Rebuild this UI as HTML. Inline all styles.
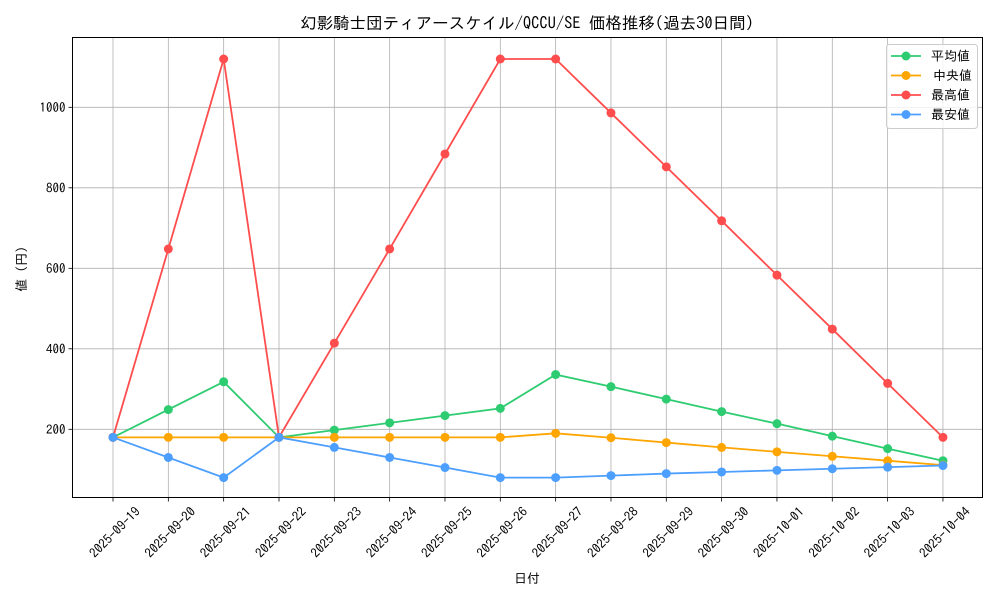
<!DOCTYPE html>
<html><head><meta charset="utf-8"><style>
body{margin:0;background:#fff;}
svg text{font-family:"IPAGothic","Noto Sans CJK JP",sans-serif;}
</style></head><body>
<svg id="c" width="1000" height="600" xmlns="http://www.w3.org/2000/svg"></svg>
<script>
const s=document.getElementById('c');
let h='';
const L=72.5,R=982.5,T=37.5,B=497.5;
const X=i=>113+i*55.33;
const Y=v=>429.3-(v-200)*0.4025;
const dates=["2025-09-19","2025-09-20","2025-09-21","2025-09-22","2025-09-23","2025-09-24","2025-09-25","2025-09-26","2025-09-27","2025-09-28","2025-09-29","2025-09-30","2025-10-01","2025-10-02","2025-10-03","2025-10-04"];
dates.forEach((d,i)=>{const x=X(i);h+=`<line x1="${x}" y1="${T}" x2="${x}" y2="${B}" stroke="#b0b0b0" stroke-width="0.8"/>`;
h+=`<line x1="${x}" y1="${B}" x2="${x}" y2="${B+4}" stroke="#000" stroke-width="0.8"/>`;
h+=`<text transform="translate(${x+28},${B+15}) rotate(-45)" text-anchor="end" font-size="13" fill="#000">${d}</text>`;});
[200,400,600,800,1000].forEach(v=>{const y=Y(v);h+=`<line x1="${L}" y1="${y}" x2="${R}" y2="${y}" stroke="#b0b0b0" stroke-width="0.8"/>`;
h+=`<line x1="${L-4}" y1="${y}" x2="${L}" y2="${y}" stroke="#000" stroke-width="0.8"/>`;
h+=`<text x="${L-7}" y="${y+4.5}" text-anchor="end" font-size="13">${v}</text>`;});
const series=[
["#2ecc71",[180,249,318,180,198,216,234,252,336,306,275,244,214,183,152,122]],
["#ffa500",[180,180,180,180,180,180,180,180,190,179,167,155,144,133,122,111]],
["#ff4d4d",[180,648,1120,180,414,648,884,1120,1120,986,852,718,583,449,314,180]],
["#4d9fff",[180,130,80,180,155,130,105,80,80,85,90,94,98,102,106,110]]];
series.forEach(([c,d])=>{h+=`<polyline fill="none" stroke="${c}" stroke-width="1.8" points="${d.map((v,i)=>X(i)+','+Y(v)).join(' ')}"/>`;
d.forEach((v,i)=>h+=`<circle cx="${X(i)}" cy="${Y(v)}" r="4.5" fill="${c}"/>`);});
h+=`<rect x="${L}" y="${T}" width="${R-L}" height="${B-T}" fill="none" stroke="#000" stroke-width="1"/>`;
h+=`<text x="527" y="29" text-anchor="middle" font-size="16.5">幻影騎士団ティアースケイル/QCCU/SE 価格推移(過去30日間)</text>`;
h+=`<text x="527" y="583" text-anchor="middle" font-size="13">日付</text>`;
h+=`<text transform="translate(26,269) rotate(-90)" text-anchor="middle" font-size="13">値 (円)</text>`;
h+=`<rect x="886.5" y="44.5" width="91" height="84" rx="3" fill="#fff" fill-opacity="0.8" stroke="#ccc"/>`;
["平均値","中央値","最高値","最安値"].forEach((t,i)=>{const y=56+i*19.5;const c=series[i][0];
h+=`<line x1="891" y1="${y}" x2="921" y2="${y}" stroke="${c}" stroke-width="1.8"/><circle cx="906" cy="${y}" r="4.5" fill="${c}"/>`;
h+=`<text x="${i==1?933:931}" y="${y+4.5}" font-size="13">${t}</text>`;});
s.innerHTML=h;
</script>
</body></html>
